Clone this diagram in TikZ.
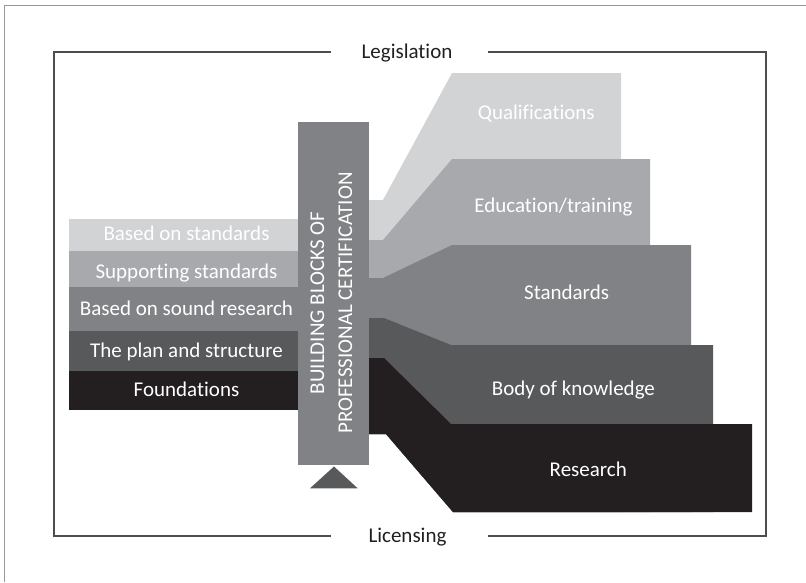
\documentclass[tikz,border=0pt]{standalone}
\usepackage{fontspec}
\setmainfont{Carlito}[Ligatures=NoCommon]
\definecolor{gA}{HTML}{D1D3D4}
\definecolor{gB}{HTML}{A7A9AC}
\definecolor{gC}{HTML}{808285}
\definecolor{gD}{HTML}{58595B}
\definecolor{gE}{HTML}{231F20}
\definecolor{frameC}{HTML}{4D4D4F}
\begin{document}
\begin{tikzpicture}[x=1pt,y=-1pt,
  lbl/.style={font=\fontsize{21}{25}\selectfont, text=white, inner sep=0pt, text height=13.5pt, text depth=0pt},
  dlbl/.style={lbl, text=gE},
  frameline/.style={draw=frameC, line width=1.1pt},
  blk/.style={draw=none}]
\useasboundingbox (0,0) rectangle (806,582);
% outer frame (only left and top visible)
\draw[draw=gray!80, line width=1pt] (4,582) -- (4,5) -- (806,5);
% inner frame
\coordinate (tl) at (54,52); \coordinate (tr) at (766,52);
\coordinate (bl) at (54,536); \coordinate (br) at (766,536);
\coordinate (tgL) at (330.6,52); \coordinate (tgR) at (488,52);
\coordinate (bgL) at (330.6,536); \coordinate (bgR) at (488,536);
\draw[frameline] (tgL) -- (tl) -- (bl) -- (bgL);
\draw[frameline] (tgR) -- (tr) -- (br) -- (bgR);
\node[dlbl] (leg) at (407,52) {Legislation};
\node[dlbl] (lic) at (407.5,536) {Licensing};
% left stacked bars
\fill[gA] (69,219) rectangle (320,251.3);
\fill[gB] (69,251) rectangle (320,287.5);
\fill[gC] (69,287.3) rectangle (320,331.3);
\fill[gD] (69,331) rectangle (320,371.3);
\fill[gE] (69,371) rectangle (320,410);
% right shapes (back to front)
\fill[gA] (340,200) -- (383,200) -- (452,73) -- (621,73) -- (621,512) -- (453,512) -- (386,434) -- (340,434) -- cycle;
\fill[gB] (340,240) -- (383,240) -- (452,159) -- (650,159) -- (650,512) -- (453,512) -- (386,434) -- (340,434) -- cycle;
\fill[gC] (340,278) -- (383,278) -- (452,245) -- (691,245) -- (691,512) -- (453,512) -- (386,434) -- (340,434) -- cycle;
\fill[gD] (340,318) -- (384,318) -- (451,345) -- (713,345) -- (713,512) -- (453,512) -- (386,434) -- (340,434) -- cycle;
\fill[gE] (340,358) -- (384,358) -- (451,424) -- (752,424) -- (752,512) -- (453,512) -- (386,434) -- (340,434) -- cycle;
% vertical bar
\fill[gC] (298,122) rectangle (369,464.5);
\fill[gD] (334,466.5) -- (357.7,488.3) -- (310,488.3) -- cycle;
\node[font=\fontsize{21}{28}\selectfont, text=white, rotate=90, align=center, inner sep=0pt] (bb) at (331.5,303) {BUILDING BLOCKS OF\\PROFESSIONAL CERTIFICATION};
% left labels
\node[lbl] (l1) at (186.5,233.8) {Based on standards};
\node[lbl] (l2) at (186.5,271.7) {Supporting standards};
\node[lbl] (l3) at (186.5,308.3) {Based on sound research};
\node[lbl] (l4) at (186.5,350.3) {The plan and structure};
\node[lbl] (l5) at (186.5,389.7) {Foundations};
% right labels
\node[lbl] (r1) at (536.3,112.5) {Qualifications};
\node[lbl] (r2) at (553.5,205.5) {Education/training};
\node[lbl] (r3) at (566.6,292.5) {Standards};
\node[lbl] (r4) at (573.4,389) {Body of knowledge};
\node[lbl] (r5) at (588.3,469.7) {Research};
\end{tikzpicture}
\end{document}
